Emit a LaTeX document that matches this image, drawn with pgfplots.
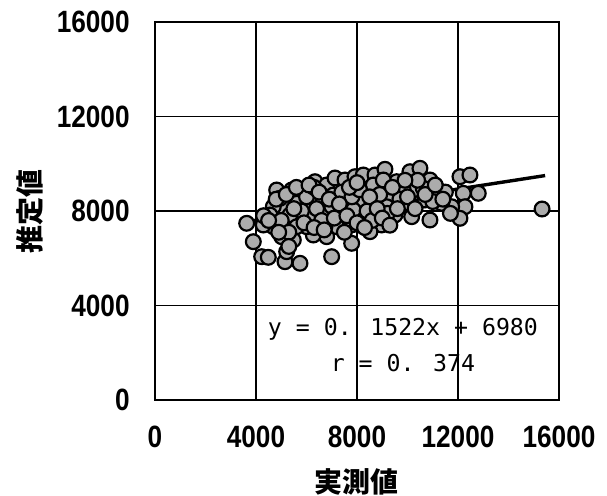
\documentclass[border=0pt]{standalone}
\usepackage{pgfplots}
\pgfplotsset{compat=1.18}
\usepackage{pgfplotstable}
\usepackage{fontspec}
\setmainfont{Liberation Sans}
\newfontfamily\tickfont[FakeStretch=0.85]{Liberation Sans}
\newfontfamily\jp{Noto Sans CJK JP}
\newfontfamily\eqfont{DejaVu Sans Mono}
\definecolor{dotgray}{RGB}{172,172,172}

% measured (x) vs estimated (y)
\pgfplotstableread{
x y
3631 7480
3893 6701
4225 6066
4487 6040
5148 5854
5742 5786
5215 6278
6997 6066
4819 8889
5413 8889
5940 8889
6336 9241
6799 9101
7128 9397
7524 9313
7920 9452
8249 9524
8712 9524
9108 9766
9571 9241
10098 9664
10494 9808
10890 9313
11219 8889
12078 9452
12474 9524
12803 8750
12209 8750
12276 8182
11749 8182
12078 7691
11353 8326
10890 7619
10165 7759
10692 8466
9833 8254
9504 7831
8977 7408
8514 7124
8712 7831
8249 7831
7789 7408
7789 6633
7195 7336
6732 7336
6799 6913
6269 6984
6007 7336
5477 6773
5017 6913
4685 7336
4289 7408
5081 8182
4685 8182
4950 8538
5611 8326
6138 8326
6665 8466
7061 8678
7591 8466
8185 8817
8645 9101
9041 9313
9306 8678
10229 8889
10625 8961
9833 8889
8249 8466
8779 8326
9175 8182
7853 8043
7326 7903
6799 7903
6269 7759
5742 7759
5346 7831
4554 7831
5611 7336
4300 7800
5000 7600
5800 8000
6400 8100
6600 7600
7000 8200
7400 8800
7800 8600
8100 8900
8400 8000
8900 8700
9200 7900
9700 8500
10100 8300
10400 9300
11000 8400
11500 8800
7500 7100
6000 8600
5300 7100
4800 8500
8600 7600
9900 9300
11700 7900
6300 9000
5200 8700
5600 9000
6100 9100
6500 8800
6900 8500
7300 8300
7700 9000
8000 9200
8500 8600
8800 8100
9400 9000
9600 8100
10000 8600
10300 8100
10700 8700
11100 9100
11400 8500
5500 8100
5900 7500
6300 7300
6700 7200
7100 7700
7600 7800
8000 7500
8300 7300
9000 7700
9300 7400
4500 7600
4900 7100
5300 6500
15330 8085
}\dataA

\pgfplotstableread{
x y
3650 7550
15450 9500
}\fitline

\begin{document}
\begin{tikzpicture}
\useasboundingbox (-77.5pt,-47.5pt) rectangle (226pt,200pt);
\begin{axis}[
  at={(0pt,0pt)}, anchor=south west,
  scale only axis,
  width=202pt, height=189pt,
  xmin=0, xmax=16000, ymin=0, ymax=16000,
  xtick={0,4000,8000,12000,16000},
  ytick={0,4000,8000,12000,16000},
  scaled ticks=false,
  /pgf/number format/.cd, 1000 sep={}, assume math mode=true, /pgfplots/.cd,
  major tick length=0pt,
  grid=major,
  grid style={black, line width=0.8pt},
  axis line style={black, line width=1.4pt},
  tick label style={font=\tickfont\bfseries\fontsize{15.4}{18}\selectfont, inner sep=0pt},
  yticklabel shift=12.5pt,
  xticklabel shift=13pt,
  xlabel={実測値},
  ylabel={推定値},
  xlabel style={font=\jp\bfseries\fontsize{14}{16}\selectfont,
                at={(axis description cs:0.5,0)}, anchor=center, yshift=-41pt},
  ylabel style={font=\jp\bfseries\fontsize{14}{16}\selectfont,
                at={(axis description cs:0,0.5)}, anchor=center, yshift=62.5pt},
  clip=false,
]
\addplot[only marks, mark=*, mark size=3.7pt,
  mark options={fill=dotgray, draw=black, line width=1.1pt}] table[x=x, y=y] {\dataA};
\addplot[black, line width=1.7pt] table[x=x, y=y] {\fitline};
\node[font=\eqfont\fontsize{11.6}{18}\selectfont, align=center, anchor=center]
  at (axis cs:9820,2330) {y = 0. 1522x + 6980\\r = 0. 374};
\end{axis}
\end{tikzpicture}
\end{document}
